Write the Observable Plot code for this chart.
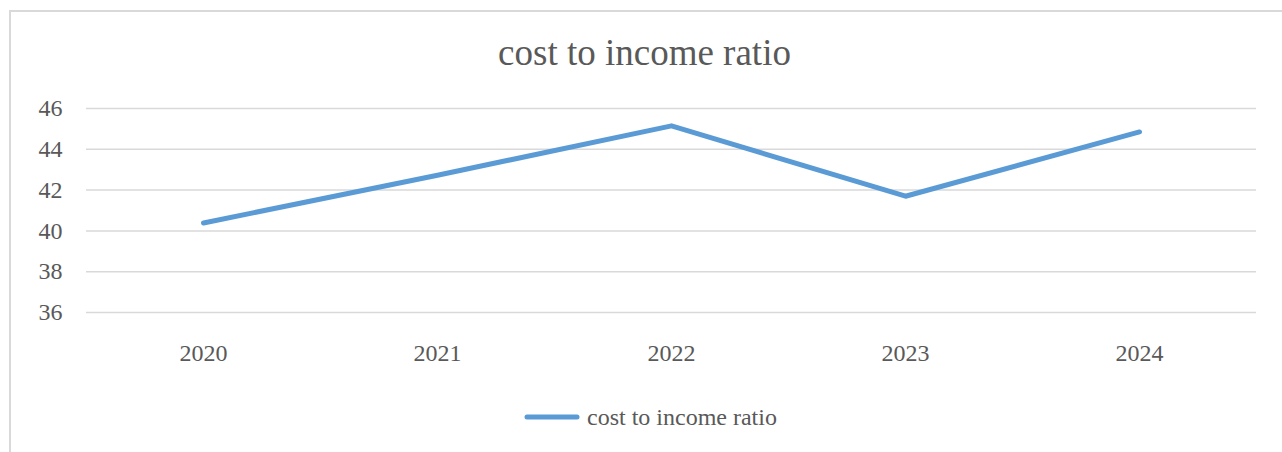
<!DOCTYPE html>
<html>
<head>
<meta charset="utf-8">
<script src="https://cdn.jsdelivr.net/npm/d3@7"></script>
<script src="https://cdn.jsdelivr.net/npm/@observablehq/plot@0.6"></script>
<style>
  html, body { margin: 0; padding: 0; background: #fff; overflow: hidden; }
  #wrap { position: relative; width: 1282px; height: 452px; font-family: "Liberation Serif", "Times New Roman", serif; color: #595959; }
  #frame { position: absolute; left: 9px; top: 10px; width: 1400px; height: 600px; border-left: 2px solid #d9d9d9; border-top: 2px solid #d9d9d9; box-sizing: border-box; }
  #title { position: absolute; top: 34px; left: 644.5px; transform: translateX(-50%); font-size: 37px; line-height: 37px; white-space: nowrap; }
  #chart { position: absolute; top: 90px; left: 0; }
  #legend { position: absolute; top: 402px; left: 524px; display: flex; align-items: center; height: 30px; line-height: 30px; font-size: 24px; white-space: nowrap; }
  #legend svg { margin-right: 7px; }
</style>
</head>
<body>
<div id="wrap">
  <div id="frame"></div>
  <div id="title">cost to income ratio</div>
  <div id="chart"></div>
  <div id="legend"></div>
</div>
<script>
const years = ["2020", "2021", "2022", "2023", "2024"];
const costToIncome = [40.39, 42.73, 45.15, 41.70, 44.85];
const yTicks = [36, 38, 40, 42, 44, 46];
const seriesName = "cost to income ratio";
const lineColor = "#5b9bd5";

const data = years.map((y, i) => ({year: y, value: costToIncome[i]}));

const plot = Plot.plot({
  width: 1282,
  height: 290,
  marginTop: 18,
  marginBottom: 68,
  marginLeft: 86,
  marginRight: 26,
  style: {fontFamily: '"Liberation Serif", "Times New Roman", serif', fontSize: "24px", color: "#595959", background: "transparent", overflow: "visible"},
  x: {type: "point", domain: years, padding: 0.5, label: null},
  y: {domain: [36, 46], label: null},
  marks: [
    Plot.gridY(yTicks, {stroke: "#d9d9d9", strokeOpacity: 1, strokeWidth: 1.5}),
    Plot.axisY(yTicks, {tickSize: 0, tickPadding: 24, label: null, fontSize: 24}),
    Plot.axisX({tickSize: 0, tickPadding: 31, label: null, fontSize: 24}),
    Plot.line(data, {x: "year", y: "value", stroke: lineColor, strokeWidth: 5, strokeLinecap: "round", strokeLinejoin: "round"})
  ]
});
document.getElementById("chart").appendChild(plot);

const legend = document.getElementById("legend");
legend.innerHTML = `<svg width="56" height="10"><line x1="3" y1="5" x2="53" y2="5" stroke="${lineColor}" stroke-width="5" stroke-linecap="round"/></svg><span>${seriesName}</span>`;
</script>
</body>
</html>
